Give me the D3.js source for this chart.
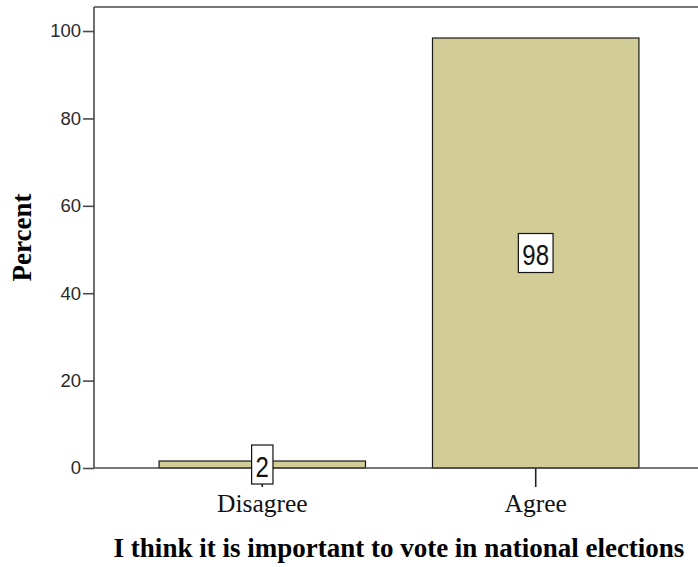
<!DOCTYPE html>
<html>
<head>
<meta charset="utf-8">
<script src="https://cdn.jsdelivr.net/npm/d3@7"></script>
<style>
  html, body { margin: 0; padding: 0; background: #fff; }
  svg { display: block; }
</style>
</head>
<body>
<svg id="chart" width="698" height="567"></svg>
<script>
const categories = ["Disagree", "Agree"];
const percentValues = [1.6, 98.4];
const barLabels = ["2", "98"];
const yTickValues = [0, 20, 40, 60, 80, 100];
const xAxisTitle = "I think it is important to vote in national elections";
const yAxisTitle = "Percent";

(function () {
const svg = d3.select("#chart");
const pLeft = 94, pRight = 704, pTop = 7, pBottom = 468;

const x = d3.scaleBand().domain(categories).range([pLeft, pRight])
  .paddingInner(0.245).paddingOuter(0.238);
const y = d3.scaleLinear().domain([0, 105.5]).range([pBottom, pTop]);

const frameColor = "#4a4a4a";

// bars
svg.append("g").selectAll("rect").data(categories).join("rect")
  .attr("x", d => x(d))
  .attr("y", (d, i) => y(percentValues[i]))
  .attr("width", x.bandwidth())
  .attr("height", (d, i) => y(0) - y(percentValues[i]))
  .attr("fill", "#d2cc96")
  .attr("stroke", "#1a1a1a")
  .attr("stroke-width", 1.2);

// y axis
const yAxis = svg.append("g").attr("transform", `translate(${pLeft},0)`)
  .call(d3.axisLeft(y).tickValues(yTickValues).tickSize(11).tickPadding(2));
yAxis.select(".domain").remove();
yAxis.selectAll(".tick line").attr("stroke", frameColor).attr("stroke-width", 1.6);
yAxis.selectAll(".tick text")
  .attr("font-family", "'Liberation Sans', Arial, sans-serif")
  .attr("font-size", 18.5).attr("fill", "#2a2a2a");

// x axis
const xAxis = svg.append("g").attr("transform", `translate(0,${pBottom})`)
  .call(d3.axisBottom(x).tickSize(19).tickPadding(7));
xAxis.select(".domain").remove();
xAxis.selectAll(".tick line").attr("stroke", "#222").attr("stroke-width", 1.6);
xAxis.selectAll(".tick text")
  .attr("font-family", "'Liberation Serif', 'Times New Roman', serif")
  .attr("font-size", 25.5).attr("fill", "#111")
  .attr("dy", null).attr("y", 44);

// frame
const frame = svg.append("g").attr("fill", "none").attr("stroke", frameColor).attr("stroke-width", 1.6);
frame.append("line").attr("x1", pLeft).attr("x2", pLeft).attr("y1", y.range()[1]).attr("y2", y(0));
frame.append("line").attr("x1", pLeft).attr("x2", pRight).attr("y1", y.range()[1]).attr("y2", y.range()[1]);
frame.append("line").attr("x1", pLeft).attr("x2", pRight).attr("y1", y(0)).attr("y2", y(0));

// value labels
const sx = 0.8;
const lab = svg.append("g").selectAll("g").data(categories).join("g")
  .attr("transform", (d, i) => `translate(${x(d) + x.bandwidth() / 2},${(y(0) + y(percentValues[i])) / 2})`);
lab.each(function (d, i) {
  const g = d3.select(this);
  const r = g.append("rect");
  const t = g.append("text").text(barLabels[i])
    .attr("text-anchor", "middle")
    .attr("transform", `scale(${sx},1)`)
    .attr("font-family", "'Liberation Sans', Arial, sans-serif")
    .attr("font-size", 30).attr("fill", "#111")
    .attr("y", 12);
  const w = t.node().getComputedTextLength() * sx + 8;
  r.attr("x", -w / 2).attr("y", -19.5).attr("width", w).attr("height", 39)
    .attr("fill", "#fff").attr("stroke", "#111").attr("stroke-width", 1.2);
});

// axis titles
svg.append("text")
  .attr("transform", `translate(31,${(pTop + pBottom) / 2}) rotate(-90)`)
  .attr("text-anchor", "middle")
  .attr("font-family", "'Liberation Serif', 'Times New Roman', serif")
  .attr("font-weight", "bold").attr("font-size", 27).attr("fill", "#000")
  .text(yAxisTitle);

svg.append("text")
  .attr("x", (pLeft + pRight) / 2).attr("y", 557)
  .attr("text-anchor", "middle")
  .attr("font-family", "'Liberation Serif', 'Times New Roman', serif")
  .attr("font-weight", "bold").attr("font-size", 27).attr("fill", "#000")
  .text(xAxisTitle);
})();
</script>
</body>
</html>
